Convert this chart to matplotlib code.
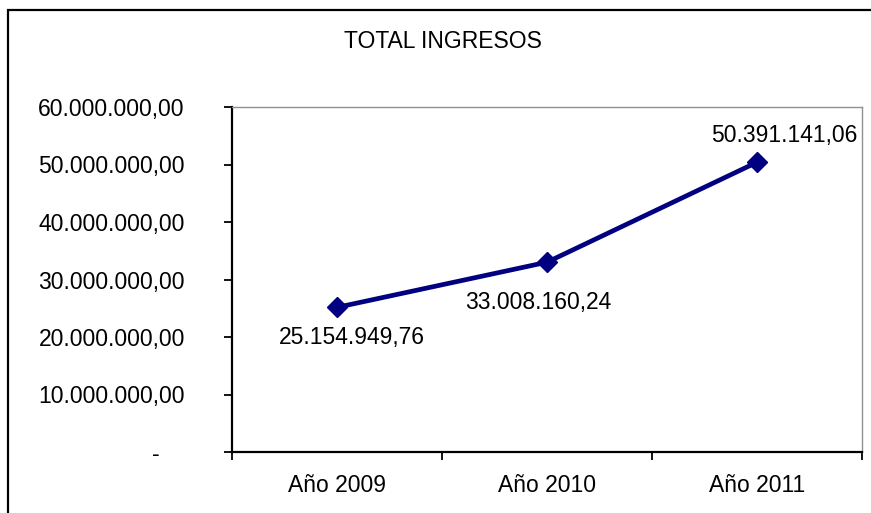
import matplotlib.pyplot as plt
from matplotlib.patches import Rectangle
from matplotlib.ticker import FuncFormatter

plt.rcParams['font.family'] = ['Liberation Sans', 'DejaVu Sans']

years = ['Año 2009', 'Año 2010', 'Año 2011']
ingresos = [25154949.76, 33008160.24, 50391141.06]
label_offsets = [(11, -22), (-6, -29), (20, 19)]


def fmt_es(v, pos=None):
    if v == 0:
        return '-    '
    s = '{:,.2f}'.format(v)
    return s.replace(',', 'X').replace('.', ',').replace('X', '.')


fig = plt.figure(figsize=(8.71, 5.13), dpi=100)
fig.patches.append(Rectangle((8 / 871, -0.05), 1.2, 1.05 - 10 / 513, transform=fig.transFigure,
                             fill=False, edgecolor='black', linewidth=1.6))

ax = fig.add_axes([232 / 871, 1 - 452 / 513, 630 / 871, 345 / 513])
x = [0.5, 1.5, 2.5]
ax.plot(x, ingresos, color='#000080', linewidth=3.4, marker='D', markersize=10, zorder=3)

for xi, v, off in zip(x, ingresos, label_offsets):
    ax.annotate(fmt_es(v), (xi, v), xytext=off, textcoords='offset points',
                ha='center', va='center', fontsize=16.5)

ax.set_xlim(0, 3)
ax.set_ylim(0, 60000000)
ax.set_yticks(range(0, 60000001, 10000000))
ax.yaxis.set_major_formatter(FuncFormatter(fmt_es))
ax.set_xticks([0, 1, 2, 3])
ax.set_xticklabels([])
ax.set_xticks(x, minor=True)
ax.set_xticklabels(years, minor=True)
ax.tick_params(axis='x', which='minor', length=0, pad=16, labelsize=16.5)
ax.tick_params(axis='x', which='major', length=6, width=1.3, direction='out')
ax.tick_params(axis='y', length=6, width=1.3, labelsize=16.5, pad=28)

ax.spines['left'].set_linewidth(1.6)
ax.spines['bottom'].set_linewidth(1.6)
ax.spines['top'].set_color('#909090')
ax.spines['right'].set_color('#909090')
ax.spines['top'].set_linewidth(1)
ax.spines['right'].set_linewidth(1)

fig.text(443 / 871, 1 - 42 / 513, 'TOTAL INGRESOS', ha='center', va='center', fontsize=16.5)

fig.savefig('out.png', dpi=100)
